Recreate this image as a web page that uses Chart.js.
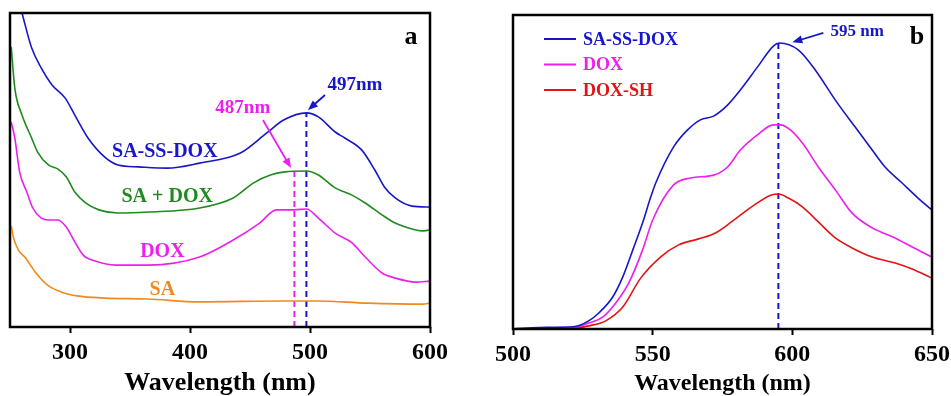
<!DOCTYPE html>
<html>
<head>
<meta charset="utf-8">
<script src="https://cdn.jsdelivr.net/npm/chart.js@4"></script>
<style>
  html, body { margin: 0; padding: 0; background: #fff; }
  body { width: 951px; height: 396px; position: relative; overflow: hidden; }
  .panel { position: absolute; top: 0; }
  #wrapA { left: 0; width: 460px; height: 396px; }
  #wrapB { left: 490px; width: 480px; height: 396px; }
</style>
</head>
<body>
<div class="panel" id="wrapA"><canvas id="chartA"></canvas></div>
<div class="panel" id="wrapB"><canvas id="chartB"></canvas></div>
<script>
// panel a: UV-vis absorbance
const saSsDoxWl = [255, 260, 268, 276, 285, 296, 304, 315, 329, 340, 357, 381, 408, 442, 464, 478, 497, 507, 521, 529, 543, 554, 562, 571, 585, 600];
const saSsDoxAbs = [1.07, 1.0, 0.889, 0.825, 0.771, 0.729, 0.675, 0.602, 0.541, 0.516, 0.510, 0.506, 0.522, 0.554, 0.618, 0.659, 0.682, 0.669, 0.621, 0.602, 0.564, 0.500, 0.446, 0.411, 0.385, 0.382];

const saDoxWl = [251, 254, 260, 268, 273, 282, 290, 297, 304, 313, 324, 340, 365, 408, 436, 453, 467, 479, 497, 507, 521, 535, 546, 560, 571, 585, 593, 600];
const saDoxAbs = [0.892, 0.761, 0.675, 0.602, 0.557, 0.516, 0.503, 0.478, 0.430, 0.395, 0.373, 0.363, 0.366, 0.379, 0.411, 0.459, 0.484, 0.494, 0.497, 0.484, 0.443, 0.420, 0.395, 0.357, 0.331, 0.312, 0.306, 0.309];

const doxWl = [251, 254, 258, 264, 269, 276, 282, 290, 297, 304, 311, 321, 338, 365, 408, 436, 458, 472, 487, 497, 507, 521, 535, 546, 560, 571, 588, 600];
const doxAbs = [0.653, 0.602, 0.494, 0.430, 0.379, 0.347, 0.341, 0.341, 0.318, 0.271, 0.229, 0.210, 0.197, 0.197, 0.223, 0.277, 0.331, 0.373, 0.373, 0.376, 0.347, 0.299, 0.268, 0.223, 0.172, 0.156, 0.143, 0.146];

const saWl = [251, 253, 257, 263, 271, 281, 293, 306, 329, 365, 408, 478, 506, 548, 594, 600];
const saAbs = [0.322, 0.283, 0.245, 0.220, 0.175, 0.134, 0.111, 0.099, 0.092, 0.089, 0.080, 0.083, 0.083, 0.076, 0.073, 0.076];

const ticksA = [300, 400, 500, 600];
const peakDox = 487, peakDoxTop = 0.50;
const peakConj = 497, peakConjTop = 0.682;

// panel b: fluorescence
const flConjWl = [500, 509.3, 521.4, 527.1, 530.7, 535.7, 539.3, 542.9, 546.4, 549.3, 551.1, 557.5, 562.5, 567.1, 571.8, 576.8, 581.4, 587.5, 593.2, 595.4, 602.1, 608.2, 615.4, 622.5, 628.6, 633.2, 639.3, 645, 650];
const flConjInt = [0.0, 0.005, 0.007, 0.026, 0.051, 0.102, 0.166, 0.252, 0.338, 0.420, 0.465, 0.580, 0.634, 0.666, 0.678, 0.713, 0.761, 0.834, 0.901, 0.911, 0.889, 0.825, 0.729, 0.643, 0.570, 0.516, 0.465, 0.417, 0.379];

const flDoxWl = [500, 521, 527.1, 532.1, 536.8, 541.4, 546.4, 550, 557.5, 563.6, 571.8, 576.8, 581.4, 587.5, 593.2, 595.7, 599.3, 603.6, 609.3, 615.4, 621.4, 628.6, 636.8, 642.9, 650];
const flDoxInt = [0.0, 0.003, 0.019, 0.038, 0.083, 0.146, 0.252, 0.347, 0.459, 0.481, 0.490, 0.516, 0.570, 0.618, 0.650, 0.650, 0.634, 0.592, 0.516, 0.443, 0.369, 0.322, 0.290, 0.261, 0.229];

const flDoxShWl = [500, 521, 527.1, 533.2, 539.3, 545.7, 552.9, 559.3, 566.4, 572.5, 578.2, 585.4, 592.5, 595, 598.6, 603.6, 609.3, 615.4, 621.4, 628.6, 636.8, 642.9, 650];
const flDoxShInt = [0.0, 0.002, 0.010, 0.026, 0.070, 0.162, 0.230, 0.268, 0.287, 0.306, 0.341, 0.389, 0.427, 0.430, 0.417, 0.389, 0.341, 0.290, 0.258, 0.229, 0.210, 0.191, 0.162];

const ticksB = [500, 550, 600, 650];
const peakFl = 595, peakFlTop = 0.911;

const BLUE = '#1717c9';
const GREEN = '#1f8a1f';
const MAGENTA = '#ee1eee';
const ORANGE = '#f08a1c';
const RED = '#e31414';
const SERIF = '"Liberation Serif", "Times New Roman", serif';

const pts = (xs, ys) => xs.map((x, i) => ({ x: x, y: ys[i] }));

const curve = (label, xs, ys, color) => ({
  label: label,
  data: pts(xs, ys),
  borderColor: color,
  borderWidth: 1.6,
  pointRadius: 0,
  fill: false,
  cubicInterpolationMode: 'monotone',
});

const dashLine = (x, top, color) => ({
  label: '',
  data: [{ x: x, y: 0 }, { x: x, y: top }],
  borderColor: color,
  borderWidth: 2,
  borderDash: [6, 4],
  pointRadius: 0,
  fill: false,
});

const framePlugin = {
  id: 'frame',
  afterDraw(chart) {
    const { ctx, chartArea: a } = chart;
    ctx.save();
    ctx.strokeStyle = '#000';
    ctx.lineWidth = 2.5;
    ctx.strokeRect(a.left, a.top, a.right - a.left, a.bottom - a.top);
    ctx.restore();
  }
};

const drawArrow = (ctx, x1, y1, x2, y2, color) => {
  const ang = Math.atan2(y2 - y1, x2 - x1);
  const len = 10, half = 4;
  ctx.strokeStyle = color;
  ctx.fillStyle = color;
  ctx.lineWidth = 1.8;
  ctx.beginPath();
  ctx.moveTo(x1, y1);
  ctx.lineTo(x2 - Math.cos(ang) * len * 0.8, y2 - Math.sin(ang) * len * 0.8);
  ctx.stroke();
  ctx.beginPath();
  ctx.moveTo(x2, y2);
  ctx.lineTo(x2 - Math.cos(ang) * len - Math.sin(ang) * half, y2 - Math.sin(ang) * len + Math.cos(ang) * half);
  ctx.lineTo(x2 - Math.cos(ang) * len + Math.sin(ang) * half, y2 - Math.sin(ang) * len - Math.cos(ang) * half);
  ctx.closePath();
  ctx.fill();
};

// text labels, arrows, panel letter and (optional) inset legend
const notesPlugin = {
  id: 'notes',
  afterDatasetsDraw(chart, args, opts) {
    const { ctx, chartArea: a, scales } = chart;
    const px = v => scales.x.getPixelForValue(v);
    const py = v => scales.y.getPixelForValue(v);
    ctx.save();
    ctx.textBaseline = 'middle';
    (opts.texts || []).forEach(t => {
      ctx.font = 'bold ' + t.size + 'px ' + SERIF;
      ctx.fillStyle = t.color;
      ctx.textAlign = 'center';
      ctx.fillText(t.text, px(t.x), py(t.y));
    });
    (opts.arrows || []).forEach(ar => {
      drawArrow(ctx, px(ar.from[0]), py(ar.from[1]), px(ar.to[0]), py(ar.to[1]), ar.color);
    });
    if (opts.letter) {
      ctx.font = 'bold 26px ' + SERIF;
      ctx.fillStyle = '#000';
      ctx.textAlign = 'center';
      ctx.fillText(opts.letter, a.right - opts.letterDx, a.top + opts.letterDy);
    }
    if (opts.legend) {
      const lg = opts.legend;
      ctx.font = 'bold 18px ' + SERIF;
      ctx.textAlign = 'left';
      chart.data.datasets.filter(d => d.label).forEach((d, i) => {
        const y = a.top + lg.top + i * lg.gap;
        const x0 = a.left + lg.left;
        ctx.strokeStyle = d.borderColor;
        ctx.lineWidth = 2;
        ctx.beginPath();
        ctx.moveTo(x0, y);
        ctx.lineTo(x0 + lg.lineLen, y);
        ctx.stroke();
        ctx.fillStyle = d.borderColor;
        ctx.fillText(d.label, x0 + lg.lineLen + 7, y + 1);
      });
    }
    ctx.restore();
  }
};

const xAxis = (min, max, tickVals, titleSize, axisHeight) => ({
  type: 'linear',
  min: min,
  max: max,
  afterBuildTicks: (scale) => {
    scale.ticks = tickVals.map(v => ({ value: v }));
  },
  afterFit: (scale) => {
    scale.height = axisHeight;
  },
  grid: {
    display: true,
    drawOnChartArea: false,
    drawTicks: true,
    tickLength: 6,
    tickWidth: 2,
    tickColor: '#000',
  },
  border: { display: false },
  ticks: {
    color: '#000',
    padding: 5,
    maxRotation: 0,
    autoSkip: false,
    font: { family: SERIF, size: 24, weight: 'bold' },
  },
  title: {
    display: true,
    text: 'Wavelength (nm)',
    color: '#000',
    padding: { top: 0, bottom: 0 },
    font: { family: SERIF, size: titleSize, weight: 'bold', lineHeight: 1.0 },
  },
});

const yAxis = { display: false, min: 0, max: 1 };

new Chart(document.getElementById('chartA'), {
  type: 'line',
  data: {
    datasets: [
      curve('SA-SS-DOX', saSsDoxWl, saSsDoxAbs, BLUE),
      curve('SA + DOX', saDoxWl, saDoxAbs, GREEN),
      curve('DOX', doxWl, doxAbs, MAGENTA),
      curve('SA', saWl, saAbs, ORANGE),
      dashLine(peakDox, peakDoxTop, MAGENTA),
      dashLine(peakConj, peakConjTop, BLUE),
    ]
  },
  options: {
    responsive: true,
    maintainAspectRatio: false,
    animation: false,
    layout: { padding: { left: 10, top: 13, right: 30, bottom: 0 } },
    scales: {
      x: xAxis(250, 600, ticksA, 26, 69),
      y: yAxis,
    },
    plugins: {
      legend: { display: false },
      tooltip: { enabled: false },
      notes: {
        texts: [
          { text: 'SA-SS-DOX', x: 379, y: 0.557, color: BLUE, size: 20 },
          { text: 'SA + DOX', x: 381, y: 0.414, color: GREEN, size: 20 },
          { text: 'DOX', x: 377, y: 0.239, color: MAGENTA, size: 20 },
          { text: 'SA', x: 377, y: 0.118, color: ORANGE, size: 20 },
          { text: '497nm', x: 537.5, y: 0.771, color: BLUE, size: 19 },
          { text: '487nm', x: 444, y: 0.697, color: MAGENTA, size: 19 },
        ],
        arrows: [
          { from: [512.5, 0.739], to: [498.3, 0.691], color: BLUE },
          { from: [460.8, 0.659], to: [484.2, 0.506], color: MAGENTA },
        ],
        letter: 'a',
        letterDx: 19,
        letterDy: 24,
      },
    },
  },
  plugins: [framePlugin, notesPlugin],
});

new Chart(document.getElementById('chartB'), {
  type: 'line',
  data: {
    datasets: [
      curve('SA-SS-DOX', flConjWl, flConjInt, BLUE),
      curve('DOX', flDoxWl, flDoxInt, MAGENTA),
      curve('DOX-SH', flDoxShWl, flDoxShInt, RED),
      dashLine(peakFl, peakFlTop, BLUE),
    ]
  },
  options: {
    responsive: true,
    maintainAspectRatio: false,
    animation: false,
    layout: { padding: { left: 22, top: 15, right: 38, bottom: 0 } },
    scales: {
      x: xAxis(500, 650, ticksB, 24, 67),
      y: yAxis,
    },
    plugins: {
      legend: { display: false },
      tooltip: { enabled: false },
      notes: {
        texts: [
          { text: '595 nm', x: 623.2, y: 0.946, color: BLUE, size: 17 },
        ],
        arrows: [
          { from: [611.1, 0.943], to: [600, 0.913], color: BLUE },
        ],
        letter: 'b',
        letterDx: 15,
        letterDy: 22,
        legend: { left: 31, top: 24, gap: 25.5, lineLen: 32 },
      },
    },
  },
  plugins: [framePlugin, notesPlugin],
});
</script>
</body>
</html>
